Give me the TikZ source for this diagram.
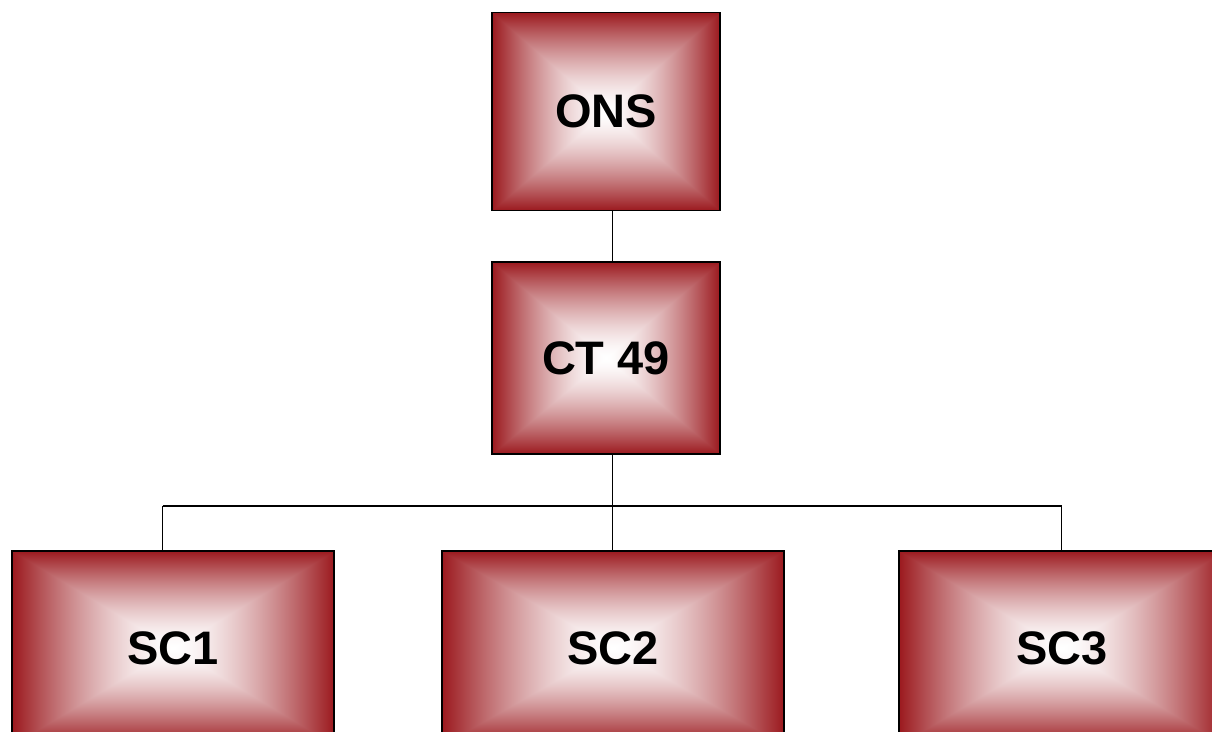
\documentclass[tikz,border=0pt]{standalone}
\usepackage{fontspec}
\setmainfont{Liberation Sans}
\pgfdeclarefunctionalshading{rectgrad}{\pgfpointorigin}{\pgfpoint{100bp}{100bp}}{}{
50 sub abs exch 50 sub abs
2 copy lt {exch} if pop
25 div dup 1 gt {pop 1} if
dup sqrt mul
dup 0.392 mul 1 exch sub exch
dup 0.902 mul 1 exch sub exch
0.882 mul 1 exch sub
}
\tikzset{
  orgbox/.style={draw=black, line width=1.8pt, shading=rectgrad, inner sep=0pt,
    font=\fontsize{47}{50}\selectfont\bfseries, text=black},
  link/.style={draw=black, line width=1.4pt}
}
\begin{document}
\begin{tikzpicture}[x=1pt,y=-1pt]
\useasboundingbox (0,0) rectangle (1212,731);
\clip (0,0) rectangle (1212,731);
\node[orgbox, minimum width=228pt, minimum height=198pt] (ons) at (606,111.5) {ONS};
\node[orgbox, minimum width=228pt, minimum height=192pt] (ct) at (606,358) {CT 49};
\node[orgbox, minimum width=322pt, minimum height=194pt] (sc1) at (173.3,648) {SC1};
\node[orgbox, minimum width=342pt, minimum height=194pt] (sc2) at (613,648) {SC2};
\node[orgbox, minimum width=326pt, minimum height=194pt] (sc3) at (1062,648) {SC3};
\coordinate (bus) at (612.5,506);
\coordinate (busL) at (162.5,506);
\coordinate (busR) at (1061.5,506);
\draw[link] (ons.south -| bus) -- (ct.north -| bus);
\draw[link] (ct.south -| bus) -- (bus);
\draw[link] (busL) -- (busR);
\draw[link] (busL) -- (busL |- sc1.north);
\draw[link] (bus) -- (bus |- sc2.north);
\draw[link] (busR) -- (busR |- sc3.north);
\end{tikzpicture}
\end{document}
